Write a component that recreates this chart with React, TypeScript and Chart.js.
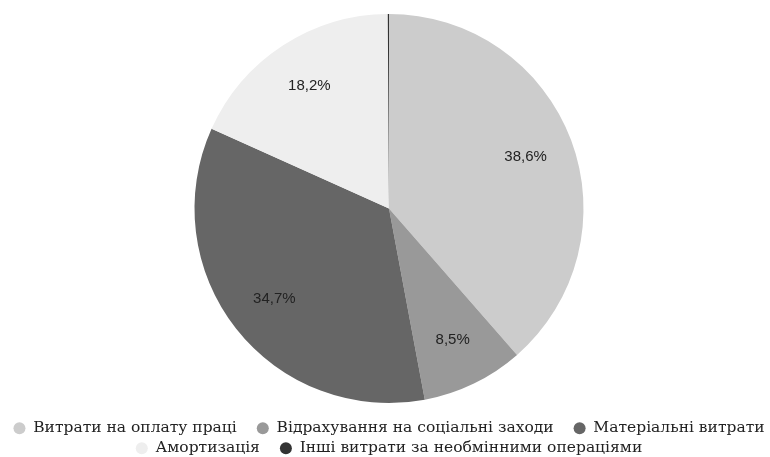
import React, { useEffect, useRef } from "react";
import { Chart, registerables } from "chart.js";

Chart.register(...registerables);

const categories = [
  "Витрати на оплату праці",
  "Відрахування на соціальні заходи",
  "Матеріальні витрати",
  "Амортизація",
  "Інші витрати за необмінними операціями",
];
const values = [38.6, 8.5, 34.7, 18.2, 0.1];
const labels = ["38,6%", "8,5%", "34,7%", "18,2%", ""];
const colors = ["#cccccc", "#999999", "#666666", "#eeeeee", "#333333"];
// items that end a legend row get no extra trailing gap
const rowEnds = [2, 4];

const sliceLabels = {
  id: "sliceLabels",
  afterDatasetsDraw(chart: any) {
    const ctx = chart.ctx;
    const meta = chart.getDatasetMeta(0);
    ctx.save();
    ctx.font = '15px "Liberation Sans", Arial, sans-serif';
    ctx.fillStyle = "#222222";
    ctx.textAlign = "center";
    ctx.textBaseline = "middle";
    meta.data.forEach((arc: any, i: number) => {
      const text = labels[i];
      if (!text) return;
      const p = arc.getProps(["x", "y", "startAngle", "endAngle", "outerRadius"], true);
      const mid = (p.startAngle + p.endAngle) / 2;
      const r = p.outerRadius * 0.75;
      ctx.fillText(text, p.x + Math.cos(mid) * r, p.y + Math.sin(mid) * r);
    });
    ctx.restore();
  },
};

export default function App() {
  const ref = useRef<HTMLCanvasElement>(null);
  useEffect(() => {
    document.body.style.margin = "0";
    const chart = new Chart(ref.current!, {
      type: "pie",
      data: {
        labels: categories,
        datasets: [
          {
            data: values,
            backgroundColor: colors,
            borderWidth: 0,
          },
        ],
      },
      options: {
        animation: false,
        responsive: false,
        layout: { padding: { top: 14, bottom: -9, left: 8 } },
        plugins: {
          tooltip: { enabled: false },
          legend: {
            position: "bottom",
            title: { display: true, text: "", font: { size: 10, lineHeight: 1.3 }, padding: 0 },
            labels: {
              usePointStyle: true,
              pointStyle: "circle",
              pointStyleWidth: 12,
              boxHeight: 8.5,
              padding: 4.5,
              color: "#222222",
              font: { family: '"DejaVu Serif", Georgia, serif', size: 15.5 },
              generateLabels(ch: any) {
                const base = Chart.overrides.pie.plugins.legend.labels.generateLabels(ch);
                return base.map((item: any, i: number) => ({
                  ...item,
                  text: rowEnds.includes(i) ? item.text : item.text + "\u2003",
                  fontColor: "#222222",
                }));
              },
            },
          },
        },
      },
      plugins: [sliceLabels],
    });
    return () => chart.destroy();
  }, []);
  return (
    <div style={{ width: 770, height: 457 }}>
      <canvas ref={ref} width={770} height={457} />
    </div>
  );
}
